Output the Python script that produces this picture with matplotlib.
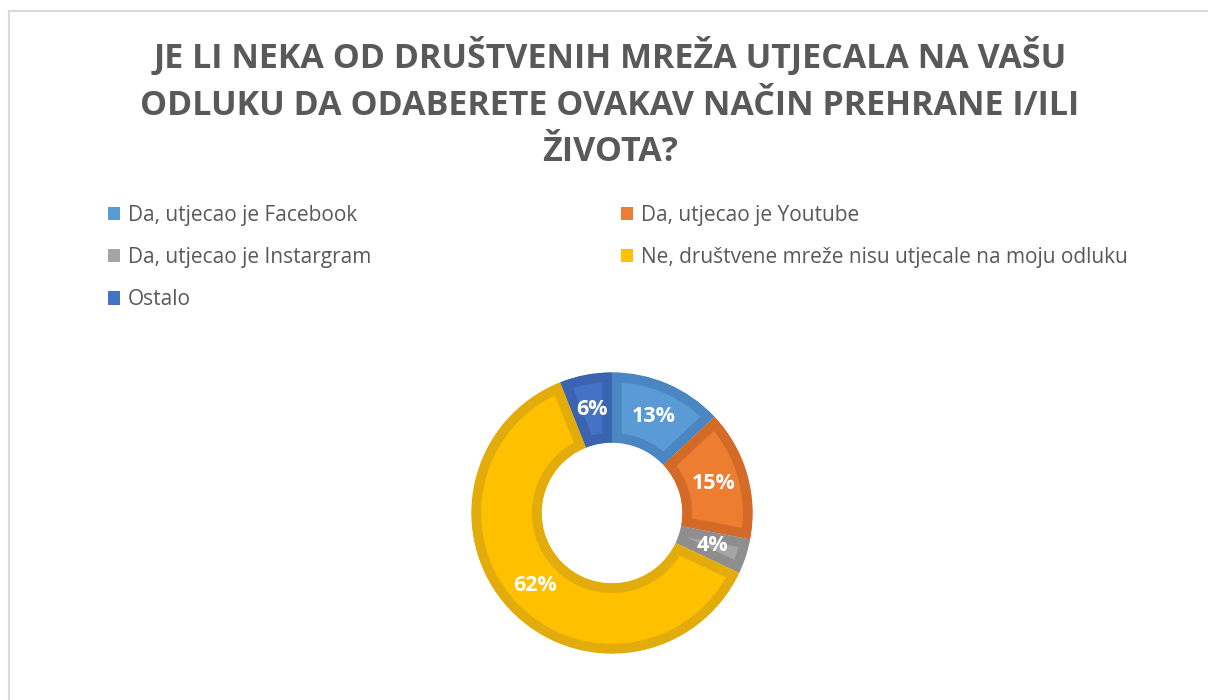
import matplotlib.pyplot as plt
from matplotlib.lines import Line2D
from matplotlib.patches import Patch

labels = ['Da, utjecao je Facebook', 'Da, utjecao je Youtube', 'Da, utjecao je Instargram',
          'Ne, društvene mreže nisu utjecale na moju odluku', 'Ostalo']
values = [13, 15, 4, 62, 6]
colors = ['#5B9BD5', '#ED7D31', '#A5A5A5', '#FFC000', '#4472C4']
edges = ['#4A87C2', '#D46A28', '#8E8E8E', '#E2AC0C', '#3A63B0']
title = 'JE LI NEKA OD DRUŠTVENIH MREŽA UTJECALA NA VAŠU\nODLUKU DA ODABERETE OVAKAV NAČIN PREHRANE I/ILI\nŽIVOTA?'

W, H = 1208, 700
fig = plt.figure(figsize=(W / 100, H / 100), dpi=100)

# frame of the chart area (only top and left visible)
fig.add_artist(Line2D([8.5 / W, 8.5 / W], [0, 1 - 11 / H], color='#D9D9D9', lw=1.5))
fig.add_artist(Line2D([8.5 / W, 1], [1 - 11 / H, 1 - 11 / H], color='#D9D9D9', lw=1.5))

fig.text(0.505, 1 - 103 / H, title, ha='center', va='center', fontsize=24.5,
         fontweight='bold', color='#595959', family='Open Sans', linespacing=1.47)

# donut
cx, cy, r = 612, 513, 142
ax = fig.add_axes([(cx - r) / W, (H - cy - r) / H, 2 * r / W, 2 * r / H])
wedges, texts, autotexts = ax.pie(values, colors=colors, startangle=90, counterclock=False,
                                  radius=1, autopct='%1.0f%%', pctdistance=0.75,
                                  wedgeprops=dict(width=0.5, linewidth=0),
                                  textprops=dict(color='white', fontsize=15.5, fontweight='bold',
                                                 family='Open Sans'))
for w, ec in zip(wedges, edges):
    w.set_edgecolor(ec)
    w.set_linewidth(14)
    w.set_clip_path(w)
    w.set_clip_on(True)
ax.set_xlim(-1.01, 1.01)
ax.set_ylim(-1.01, 1.01)
ax.set_aspect('equal')
ax.axis('off')

handles = [Patch(facecolor=c, edgecolor='none') for c in colors]
order = [0, 2, 4, 1, 3]
leg = fig.legend([handles[i] for i in order], [labels[i] for i in order], ncol=2,
                 loc='upper left', bbox_to_anchor=(89 / W, 1 - 186 / H), frameon=False,
                 handlelength=0.6, handleheight=0.6, handletextpad=0.35,
                 labelspacing=1.02, columnspacing=12.0, labelcolor='#595959',
                 prop=dict(family='Open Sans', size=15))

fig.savefig('out.png', dpi=100)
